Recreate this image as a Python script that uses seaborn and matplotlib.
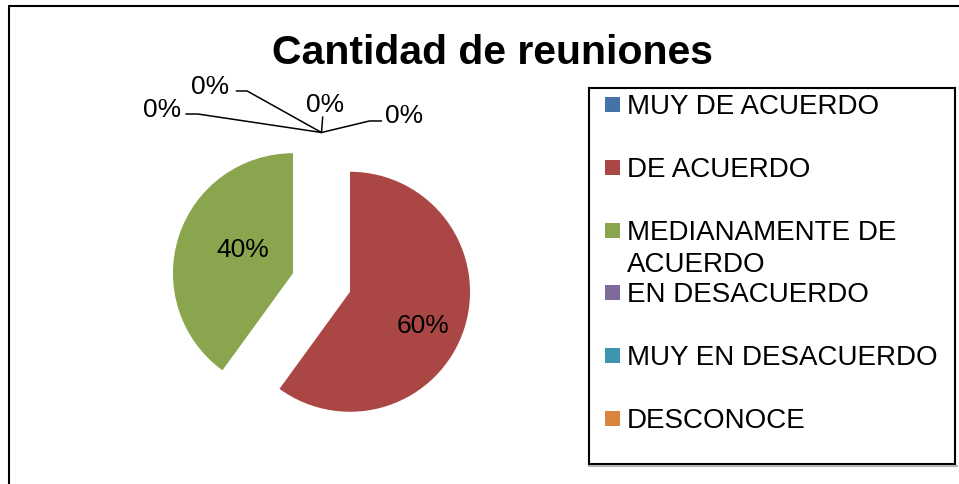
import textwrap

import matplotlib
matplotlib.use("Agg")
import matplotlib.pyplot as plt
import numpy as np
import seaborn as sns
from matplotlib.lines import Line2D
from matplotlib.patches import Rectangle

# --- data ---
categories = ["MUY DE ACUERDO", "DE ACUERDO", "MEDIANAMENTE DE ACUERDO",
              "EN DESACUERDO", "MUY EN DESACUERDO", "DESCONOCE"]
values = [0, 60, 40, 0, 0, 0]
colors = ["#4572A7", "#AA4643", "#89A54E", "#80699B", "#3D96AE", "#DB843D"]
title = "Cantidad de reuniones"

# --- label layout (Excel "best fit" placement, in pie radius units) ---
# non-zero slices: distance from the slice centre and turn from the mid angle
pct_dist = {1: 0.66, 2: 0.475}
pct_turn = {1: -5.0, 2: -10.0}
# zero slices: label, elbow and line end, relative to the slice tip
zero_layout = {
    0: ((0.69, 0.17), (0.40, 0.096), (0.50, 0.096)),
    3: ((0.03, 0.255), (0.01, 0.13), (0.01, 0.13)),
    4: ((-0.93, 0.405), (-0.62, 0.346), (-0.71, 0.346)),
    5: ((-1.33, 0.213), (-1.03, 0.154), (-1.13, 0.154)),
}

sns.set_theme(style="white")
plt.rcParams["font.family"] = ["Liberation Sans", "DejaVu Sans"]

W, H = 959, 485
fig = plt.figure(figsize=(W / 100, H / 100), dpi=100)


def fbox(x0, y0, x1, y1):
    # pixel box (origin top-left) -> figure fraction rect
    return [x0 / W, 1 - y1 / H, (x1 - x0) / W, (y1 - y0) / H]


# outer chart frame (only top and left edges are inside the picture)
fig.add_artist(Line2D([8.5 / W, 8.5 / W], [0, 1 - 6.5 / H], color="black", lw=1.5))
fig.add_artist(Line2D([8.5 / W, 1], [1 - 6.5 / H, 1 - 6.5 / H], color="black", lw=1.5))

fig.text(492 / W, 1 - 64.5 / H, title, ha="center", va="baseline",
         fontsize=29.5, fontweight="bold", color="black")

# --- pie: 120 px per radius unit, centre at pixel (321.5, 283.5) ---
R_PX = 120
cx, cy = 321.5, 283.5
px0, py0, px1, py1 = 100, 60, 560, 470
ax = fig.add_axes(fbox(px0, py0, px1, py1))
wedges, _ = ax.pie(values, colors=colors, startangle=90, counterclock=False,
                   explode=[0.25] * len(values), radius=1,
                   wedgeprops=dict(linewidth=0))
ax.set_xlim((px0 - cx) / R_PX, (px1 - cx) / R_PX)
ax.set_ylim((cy - py1) / R_PX, (cy - py0) / R_PX)
ax.set_aspect("equal", adjustable="box")
ax.axis("off")

total = sum(values)
for i, w in enumerate(wedges):
    pct = f"{100 * values[i] / total:.0f}%"
    wx, wy = w.center
    if values[i] > 0:
        mid = np.deg2rad((w.theta1 + w.theta2) / 2 + pct_turn[i])
        pos = (wx + pct_dist[i] * np.cos(mid), wy + pct_dist[i] * np.sin(mid))
        ax.annotate(pct, xy=pos, xytext=(0, -6.8), textcoords="offset points",
                    ha="center", va="baseline", fontsize=19, color="black")
    else:
        ang = np.deg2rad(w.theta1)
        tip = (wx + w.r * np.cos(ang), wy + w.r * np.sin(ang))
        txt, elbow, end = zero_layout[i]
        ax.plot([tip[0], tip[0] + elbow[0], tip[0] + end[0]],
                [tip[1], tip[1] + elbow[1], tip[1] + end[1]],
                color="black", lw=1.1, clip_on=False)
        ax.annotate(pct, xy=(tip[0] + txt[0], tip[1] + txt[1]), xytext=(0, -6.8),
                    textcoords="offset points", ha="center", va="baseline",
                    fontsize=19, color="black", annotation_clip=False)

# --- legend box ---
fig.add_artist(Line2D([589 / W, 957 / W], [1 - 467 / H, 1 - 467 / H],
                      color="0.7", lw=1.5))
lg = fig.add_axes(fbox(589, 89, 955, 465))
lg.set_xlim(0, 366)
lg.set_ylim(376, 0)
lg.set_xticks([])
lg.set_yticks([])
lg.set_facecolor("white")
for s in lg.spines.values():
    s.set_visible(True)
    s.set_color("black")
    s.set_linewidth(1.5)

pitch = 62.8
for i, (cat, col) in enumerate(zip(categories, colors)):
    base = 25 + pitch * i
    lg.add_patch(Rectangle((16, base - 16), 15, 15, color=col, lw=0))
    # long entries wrap onto a second line that overflows the slot, as in Excel
    for k, line in enumerate(textwrap.wrap(cat, 17)):
        lg.text(38, base + 32 * k, line, ha="left", va="baseline",
                fontsize=20, color="black")

fig.savefig("out.png", dpi=100)
